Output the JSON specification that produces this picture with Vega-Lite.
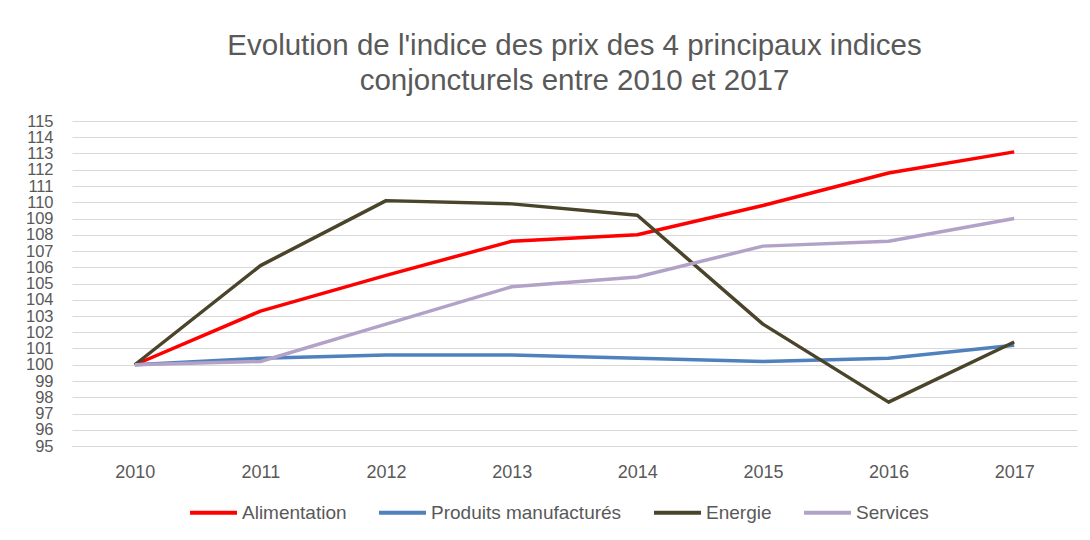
{
  "$schema": "https://vega.github.io/schema/vega-lite/v6.json",
  "width": 1005,
  "height": 325,
  "autosize": {"type": "none"},
  "padding": {"left": 72, "top": 121, "right": 13, "bottom": 94},
  "background": "white",
  "title": {
    "text": ["Evolution de l'indice des prix des 4 principaux indices", "conjoncturels entre 2010 et 2017"],
    "font": "Liberation Sans",
    "fontSize": 29.5,
    "fontWeight": "normal",
    "color": "#595959",
    "lineHeight": 35,
    "anchor": "middle",
    "offset": 17
  },
  "data": {
    "values": [
      {"annee": "2010", "serie": "Alimentation", "indice": 100},
      {"annee": "2011", "serie": "Alimentation", "indice": 103.3},
      {"annee": "2012", "serie": "Alimentation", "indice": 105.5},
      {"annee": "2013", "serie": "Alimentation", "indice": 107.6},
      {"annee": "2014", "serie": "Alimentation", "indice": 108.0},
      {"annee": "2015", "serie": "Alimentation", "indice": 109.8},
      {"annee": "2016", "serie": "Alimentation", "indice": 111.8},
      {"annee": "2017", "serie": "Alimentation", "indice": 113.1},
      {"annee": "2010", "serie": "Produits manufacturés", "indice": 100},
      {"annee": "2011", "serie": "Produits manufacturés", "indice": 100.4},
      {"annee": "2012", "serie": "Produits manufacturés", "indice": 100.6},
      {"annee": "2013", "serie": "Produits manufacturés", "indice": 100.6},
      {"annee": "2014", "serie": "Produits manufacturés", "indice": 100.4},
      {"annee": "2015", "serie": "Produits manufacturés", "indice": 100.2},
      {"annee": "2016", "serie": "Produits manufacturés", "indice": 100.4},
      {"annee": "2017", "serie": "Produits manufacturés", "indice": 101.2},
      {"annee": "2010", "serie": "Energie", "indice": 100},
      {"annee": "2011", "serie": "Energie", "indice": 106.1},
      {"annee": "2012", "serie": "Energie", "indice": 110.1},
      {"annee": "2013", "serie": "Energie", "indice": 109.9},
      {"annee": "2014", "serie": "Energie", "indice": 109.2},
      {"annee": "2015", "serie": "Energie", "indice": 102.5},
      {"annee": "2016", "serie": "Energie", "indice": 97.7},
      {"annee": "2017", "serie": "Energie", "indice": 101.4},
      {"annee": "2010", "serie": "Services", "indice": 100},
      {"annee": "2011", "serie": "Services", "indice": 100.2},
      {"annee": "2012", "serie": "Services", "indice": 102.5},
      {"annee": "2013", "serie": "Services", "indice": 104.8},
      {"annee": "2014", "serie": "Services", "indice": 105.4},
      {"annee": "2015", "serie": "Services", "indice": 107.3},
      {"annee": "2016", "serie": "Services", "indice": 107.6},
      {"annee": "2017", "serie": "Services", "indice": 109.0}
    ]
  },
  "mark": {"type": "line", "strokeWidth": 3.5, "strokeJoin": "round"},
  "encoding": {
    "x": {
      "field": "annee",
      "type": "ordinal",
      "title": null,
      "axis": {
        "labelAngle": 0,
        "labelFont": "Liberation Sans",
        "labelFontSize": 18,
        "labelColor": "#595959",
        "labelPadding": 17,
        "ticks": false,
        "domain": true,
        "domainColor": "#d9d9d9",
        "grid": false
      }
    },
    "y": {
      "field": "indice",
      "type": "quantitative",
      "title": null,
      "scale": {"domain": [95, 115], "nice": false, "zero": false},
      "axis": {
        "values": [95, 96, 97, 98, 99, 100, 101, 102, 103, 104, 105, 106, 107, 108, 109, 110, 111, 112, 113, 114, 115],
        "labelOverlap": false,
        "labelFont": "Liberation Sans",
        "labelFontSize": 16.5,
        "labelColor": "#595959",
        "labelPadding": 19,
        "ticks": false,
        "domain": false,
        "grid": true,
        "gridColor": "#d9d9d9",
        "gridWidth": 1
      }
    },
    "color": {
      "field": "serie",
      "type": "nominal",
      "title": null,
      "scale": {
        "domain": ["Alimentation", "Produits manufacturés", "Energie", "Services"],
        "range": ["#ff0000", "#4f81bd", "#4a452a", "#b3a2c7"]
      },
      "legend": {
        "orient": "none",
        "legendX": 116,
        "legendY": 366,
        "direction": "horizontal",
        "symbolType": "stroke",
        "symbolSize": 2209,
        "symbolStrokeWidth": 4,
        "labelFont": "Liberation Sans",
        "labelFontSize": 19,
        "labelLimit": 400,
        "labelColor": "#595959",
        "labelOffset": 3,
        "columnPadding": 24
      }
    }
  },
  "config": {"view": {"stroke": null}}
}
